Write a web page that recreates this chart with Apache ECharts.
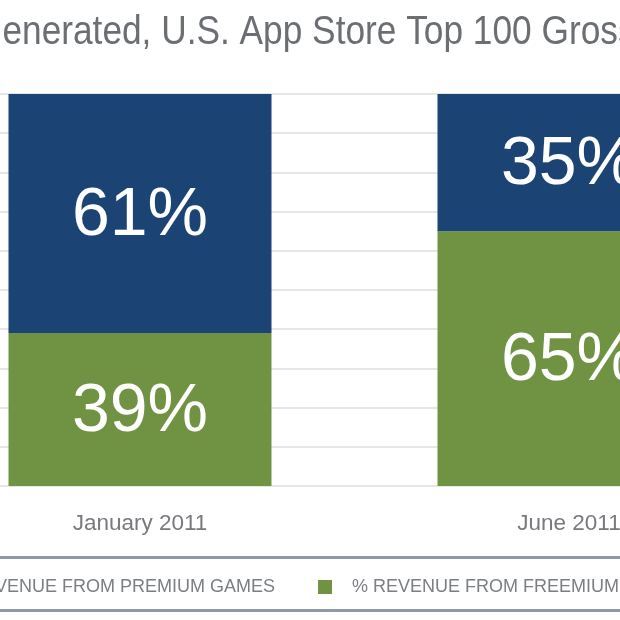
<!DOCTYPE html>
<html>
<head>
<meta charset="utf-8">
<style>
html, body { margin: 0; padding: 0; background: #fff; overflow: hidden; }
#chart { width: 620px; height: 620px; }
</style>
<script src="https://cdn.jsdelivr.net/npm/echarts@6/dist/echarts.min.js"></script>
</head>
<body>
<div id="chart"></div>
<script>
const sans = '"Liberation Sans", sans-serif'
const months = ['January 2011', 'June 2011']
const premium = [61, 35]
const freemium = [39, 65]
const premium_name = '% REVENUE FROM PREMIUM GAMES'
const freemium_name = '% REVENUE FROM FREEMIUM GAMES'

const chart = echarts.init(document.getElementById('chart'), null, { renderer: 'canvas' })

function bar_series(name, values, color) {
    return {
        name: name,
        type: 'bar',
        stack: 'share',
        barWidth: 263,
        data: values,
        itemStyle: { color: color },
        label: {
            show: true,
            position: 'inside',
            offset: [0, 3],
            formatter: '{c}%',
            color: '#fff',
            fontFamily: sans,
            fontSize: 68
        }
    }
}

chart.setOption({
    animation: false,
    backgroundColor: '#fff',
    legend: {
        data: [premium_name, freemium_name],
        left: -90,
        top: 573,
        width: 1000,
        itemWidth: 14,
        itemHeight: 14,
        itemGap: 43,
        icon: 'rect',
        outerBoundsMode: 'none',
        textStyle: { color: '#7b7e83', fontFamily: sans, fontSize: 18, padding: [0, 0, 0, 15] }
    },
    grid: { left: -74.5, top: 94, width: 858, height: 392, outerBoundsMode: 'none' },
    xAxis: {
        type: 'category',
        data: months,
        axisLine: { show: false },
        axisTick: { show: false },
        axisLabel: { color: '#77797d', fontFamily: sans, fontSize: 22.5, margin: 26 }
    },
    yAxis: {
        type: 'value',
        min: 0,
        max: 100,
        interval: 10,
        axisLabel: { show: false },
        axisLine: { show: false },
        splitLine: { lineStyle: { color: '#e6e6e6', width: 2 } }
    },
    graphic: [
        {
            type: 'text',
            x: -25,
            y: 12,
            scaleX: 0.86,
            style: {
                text: 'Generated, U.S. App Store Top 100 Grossing',
                fill: '#6b6e72',
                font: '41px ' + sans
            }
        },
        { type: 'rect', shape: { x: 0, y: 556, width: 620, height: 3 }, style: { fill: '#8f97a8' } },
        { type: 'rect', shape: { x: 0, y: 609, width: 620, height: 3 }, style: { fill: '#8f97a8' } }
    ],
    series: [
        bar_series(freemium_name, freemium, '#6f9342'),
        bar_series(premium_name, premium, '#1b4474')
    ]
})
</script>
</body>
</html>
